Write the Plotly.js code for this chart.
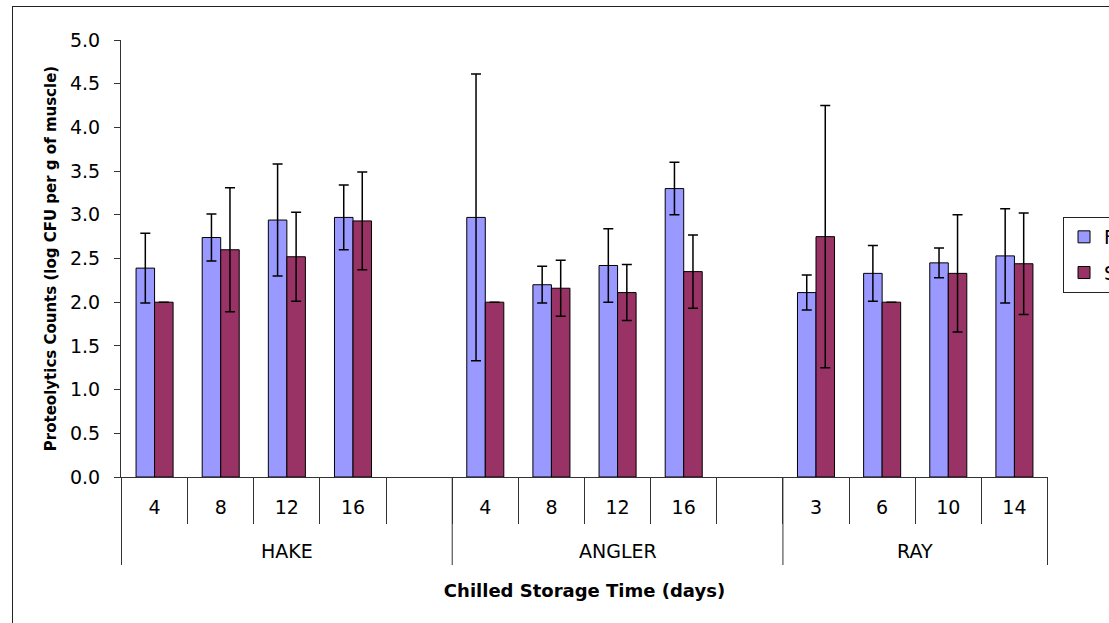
<!DOCTYPE html>
<html>
<head>
<meta charset="utf-8">
<script src="https://cdn.plot.ly/plotly-3.0.1.min.js"></script>
<style>
html,body{margin:0;padding:0;background:#fff;overflow:hidden;width:1109px;height:623px;}
#frame{position:absolute;left:12px;top:6px;border:1px solid #222;width:1200px;height:660px;}
#chart{width:1200px;height:660px;}
</style>
</head>
<body>
<div id="frame"><div id="chart"></div></div>
<script>
const groups = ['HAKE','HAKE','HAKE','HAKE','HAKE','ANGLER','ANGLER','ANGLER','ANGLER','ANGLER','RAY','RAY','RAY','RAY'];
const days = ['4','8','12','16',' ','4','8','12','16',' ','3','6','10','14'];
const flesh    = [2.39, 2.74, 2.94, 2.97, null, 2.97, 2.20, 2.42, 3.30, null, 2.11, 2.33, 2.45, 2.53];
const fleshErr = [0.40, 0.27, 0.64, 0.37, null, 1.64, 0.21, 0.42, 0.30, null, 0.20, 0.32, 0.17, 0.54];
const skin     = [2.00, 2.60, 2.52, 2.93, null, 2.00, 2.16, 2.11, 2.35, null, 2.75, 2.00, 2.33, 2.44];
const skinErr  = [0.00, 0.71, 0.51, 0.56, null, 0.00, 0.32, 0.32, 0.42, null, 1.50, 0.00, 0.67, 0.58];
const seriesNames = ['Flesh', 'Skin'];
const yTicks = [0, 0.5, 1, 1.5, 2, 2.5, 3, 3.5, 4, 4.5, 5];

// unique category keys built from the two label levels
const cats = groups.map((g, i) => g + '|' + i);

// group spans (first/last category index) derived from the groups array
const groupNames = [...new Set(groups)];
const spans = groupNames.map(g => {
  const idx = groups.map((v, i) => v === g ? i : -1).filter(i => i >= 0);
  return {name: g, first: idx[0], last: idx[idx.length - 1]};
});

const font = 'DejaVu Sans, Liberation Sans, Arial, sans-serif';
const errStyle = {type:'data', visible:true, color:'#000', thickness:1.5, width:5};

const traces = [
  {type:'bar', name:seriesNames[0], legendgroup:'a', x:cats, y:flesh,
   error_y:Object.assign({array:fleshErr}, errStyle),
   marker:{color:'#9999FF', line:{color:'#000', width:1}}},
  {type:'bar', name:seriesNames[1], legendgroup:'b', x:cats, y:skin,
   error_y:Object.assign({array:skinErr}, errStyle),
   marker:{color:'#993366', line:{color:'#000', width:1}}}
];

const dividerDepth = -0.2014;   // group divider length below axis (paper units)
const groupLabelY = -0.1693;

const shapes = [];
spans.forEach((s, k) => {
  if (k === 0) shapes.push({type:'line', xref:'x', yref:'paper', x0:s.first - 0.5, x1:s.first - 0.5, y0:0, y1:dividerDepth, line:{color:'#333', width:1}});
  shapes.push({type:'line', xref:'x', yref:'paper', x0:s.last + 0.5, x1:s.last + 0.5, y0:0, y1:dividerDepth, line:{color:'#333', width:1}});
});
const annotations = spans.map(s => ({
  xref:'x', yref:'paper', x:(s.first + s.last) / 2, y:groupLabelY, yanchor:'middle', xanchor:'center',
  text:s.name, showarrow:false, font:{family:font, size:19, color:'#000'}
}));

const layout = {
  width:1200, height:660,
  margin:{l:108, r:165, t:33, b:190},
  paper_bgcolor:'#fff', plot_bgcolor:'#fff',
  font:{family:font, size:19, color:'#000'},
  barmode:'group', bargap:0.44, bargroupgap:0,
  showlegend:true,
  legend:{x:1.0162, y:0.595, xanchor:'left', yanchor:'top', bordercolor:'#222', borderwidth:1,
          font:{family:font, size:19}, traceorder:'grouped', tracegroupgap:8, bgcolor:'#fff'},
  xaxis:{type:'category', tickvals:cats, ticktext:days, showline:true, linecolor:'#333', linewidth:1,
         ticks:'outside', tickson:'boundaries', ticklen:46, tickcolor:'#333', tickwidth:1,
         ticklabelstandoff:13,
         tickfont:{family:font, size:19}, showgrid:false, zeroline:false,
         title:{text:'<b>Chilled Storage Time (days)</b>', font:{family:font, size:18}, standoff:67}},
  yaxis:{range:[0,5], tickvals:yTicks, tickformat:'.1f', showline:true, linecolor:'#333', linewidth:1,
         ticks:'outside', ticklen:6, tickcolor:'#333', ticklabelstandoff:10,
         showgrid:false, zeroline:false, tickfont:{family:font, size:19},
         title:{text:'<b>Proteolytics Counts (log CFU per g of muscle)</b>', font:{family:font, size:15}, standoff:9}},
  shapes:shapes,
  annotations:annotations
};

Plotly.newPlot('chart', traces, layout, {staticPlot:true, displayModeBar:false});
</script>
</body>
</html>
